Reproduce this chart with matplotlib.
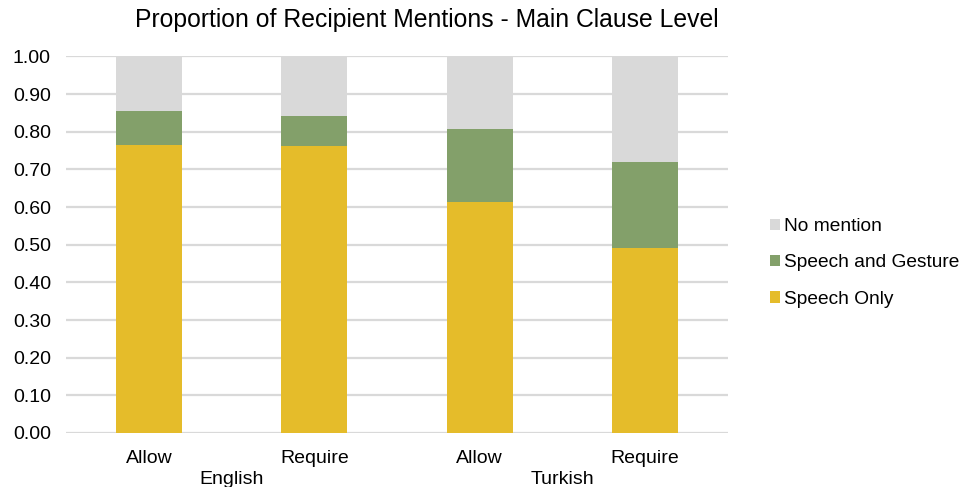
import matplotlib
matplotlib.use("Agg")
import matplotlib.pyplot as plt
import numpy as np

plt.rcParams['font.family'] = ['Liberation Sans', 'DejaVu Sans']

conditions = ["Allow", "Require", "Allow", "Require"]
languages = ["English", "Turkish"]
speech_only = [0.766, 0.762, 0.613, 0.491]
speech_gesture = [0.089, 0.080, 0.195, 0.228]
no_mention = [0.145, 0.158, 0.192, 0.281]
yticks = [0.0, 0.1, 0.2, 0.3, 0.4, 0.5, 0.6, 0.7, 0.8, 0.9, 1.0]

c_yellow = "#E5BC2A"
c_green = "#83A06A"
c_grey = "#D9D9D9"

fig = plt.figure(figsize=(9.6, 4.87), dpi=100)
ax = fig.add_axes([0.069, 0.111, 0.689, 0.773])

x = np.arange(len(conditions))
so = np.array(speech_only)
sg = np.array(speech_gesture)
nm = np.array(no_mention)
w = 0.4
b1 = ax.bar(x, so, w, color=c_yellow, label="Speech Only", zorder=3)
b2 = ax.bar(x, sg, w, bottom=so, color=c_green, label="Speech and Gesture", zorder=3)
b3 = ax.bar(x, nm, w, bottom=so + sg, color=c_grey, label="No mention", zorder=3)

ax.set_xlim(-0.5, len(conditions) - 0.5)
ax.set_ylim(0, 1.0)
ax.set_yticks(yticks)
ax.set_yticklabels(["%.2f" % t for t in yticks])
ax.set_xticks(x)
ax.set_xticklabels(conditions)
ax.tick_params(length=0, labelsize=14, colors="#000000")
ax.tick_params(axis="y", pad=11)
ax.tick_params(axis="x", pad=12)
ax.yaxis.grid(True, color=c_grey, linewidth=1.6, zorder=0)
ax.set_axisbelow(True)
for s in ax.spines.values():
    s.set_visible(False)

for i, lang in enumerate(languages):
    ax.text(2 * i + 0.5, -0.125, lang, transform=ax.get_xaxis_transform(),
            ha="center", va="center", fontsize=14)

fig.text(427 / 960, 1 - 20 / 487, "Proportion of Recipient Mentions - Main Clause Level",
         ha="center", va="center", fontsize=17.8)

leg = fig.legend(handles=[b3, b2, b1], loc="center left", bbox_to_anchor=(0.792, 0.46),
                 frameon=False, fontsize=13.8, handlelength=0.55, handleheight=0.55,
                 handletextpad=0.2, labelspacing=1.0, borderpad=0)

fig.savefig("out.png", dpi=100)
